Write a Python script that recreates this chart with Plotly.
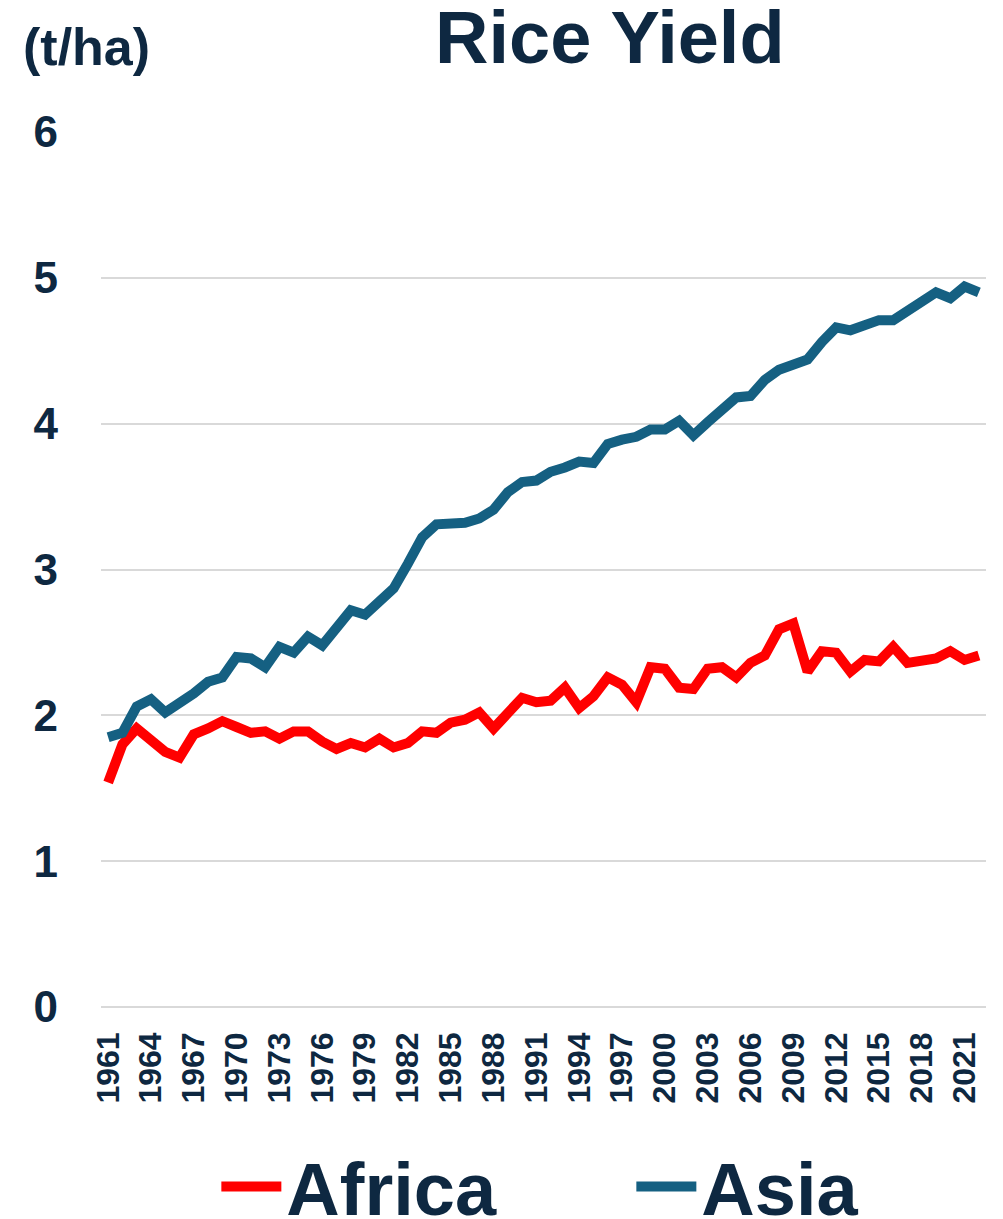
import plotly.graph_objects as go

years = list(range(1961, 2023))

africa = [1.54, 1.80, 1.91, 1.84, 1.75, 1.71, 1.87, 1.91, 1.96, 1.92,
          1.88, 1.89, 1.84, 1.89, 1.89, 1.82, 1.77, 1.81, 1.78, 1.84,
          1.78, 1.81, 1.89, 1.88, 1.95, 1.97, 2.02, 1.91, 2.02, 2.12,
          2.09, 2.10, 2.19, 2.05, 2.13, 2.26, 2.21, 2.09, 2.33, 2.32,
          2.19, 2.18, 2.32, 2.33, 2.26, 2.36, 2.41, 2.59, 2.63, 2.30,
          2.44, 2.43, 2.30, 2.38, 2.37, 2.47, 2.36, 2.37, 2.39, 2.44,
          2.38, 2.41]

asia = [1.85, 1.88, 2.06, 2.11, 2.02, 2.08, 2.15, 2.23, 2.26, 2.40,
        2.39, 2.33, 2.47, 2.43, 2.54, 2.48, 2.60, 2.72, 2.69, 2.78,
        2.87, 3.04, 3.22, 3.31, 3.32, 3.32, 3.35, 3.41, 3.53, 3.60,
        3.61, 3.67, 3.70, 3.74, 3.73, 3.86, 3.89, 3.91, 3.96, 3.96,
        4.02, 3.92, 4.01, 4.09, 4.18, 4.19, 4.30, 4.37, 4.40, 4.44,
        4.56, 4.66, 4.64, 4.67, 4.71, 4.71, 4.77, 4.84, 4.90, 4.86,
        4.94, 4.90]

tick_years = list(range(1961, 2022, 3))
tick_labels = [str(y) for y in tick_years]
y_ticks = [0, 1, 2, 3, 4, 5, 6]

TEXT = "#0E2841"
FONT = "Liberation Sans, Arial, sans-serif"

# The page has an 8px body margin; lay the figure out so the plot area lands
# at page pixels x 101..986, y 132..1007.
OFF = 8
FIG_W, FIG_H = 1003 - OFF, 1219 - OFF
L, T = 101 - OFF, 132 - OFF
R = FIG_W - (986 - OFF)
B = FIG_H - (1007 - OFF)
PW, PH = 986 - 101, 1007 - 132


def px(x_page):
    return (x_page - 101) / PW


def py(y_page):
    return (1007 - y_page) / PH


fig = go.Figure()
fig.add_trace(go.Scatter(x=years, y=africa, name="Africa", mode="lines",
                         line=dict(color="#FF0000", width=10)))
fig.add_trace(go.Scatter(x=years, y=asia, name="Asia", mode="lines",
                         line=dict(color="#156082", width=10)))

fig.update_layout(
    width=FIG_W, height=FIG_H,
    margin=dict(l=L, r=R, t=T, b=B, autoexpand=False),
    paper_bgcolor="white", plot_bgcolor="white",
    font=dict(family=FONT, color=TEXT),
    showlegend=True,
    legend=dict(orientation="h", x=px(101 + 0.11 * PW + 18), xanchor="left",
                y=py(1132), yanchor="top",
                font=dict(size=74, family=FONT, color=TEXT, weight="bold"),
                itemwidth=60, entrywidth=340, bgcolor="rgba(0,0,0,0)"),
    xaxis=dict(range=[1960.5, 2022.5], tickvals=tick_years, ticktext=tick_labels,
               tickangle=-90, showgrid=False, zeroline=False, showline=False,
               tickfont=dict(size=32, family=FONT, color=TEXT, weight="bold"),
               ticklabelstandoff=18),
    yaxis=dict(range=[0, 6], tickvals=y_ticks, showgrid=True, gridcolor="#D9D9D9",
               gridwidth=2, zeroline=True, zerolinecolor="#D9D9D9", zerolinewidth=2,
               showline=False,
               tickfont=dict(size=44, family=FONT, color=TEXT, weight="bold"),
               ticklabelstandoff=42),
    annotations=[
        dict(text="<b>Rice Yield</b>", x=px(610), y=py(37), xref="paper", yref="paper",
             xanchor="center", yanchor="middle", showarrow=False,
             font=dict(size=74, family=FONT, color=TEXT)),
        dict(text="<b>(t/ha)</b>", x=px(86), y=py(47), xref="paper", yref="paper",
             xanchor="center", yanchor="middle", showarrow=False,
             font=dict(size=52, family=FONT, color=TEXT)),
    ],
)

fig.write_html("out.html")
